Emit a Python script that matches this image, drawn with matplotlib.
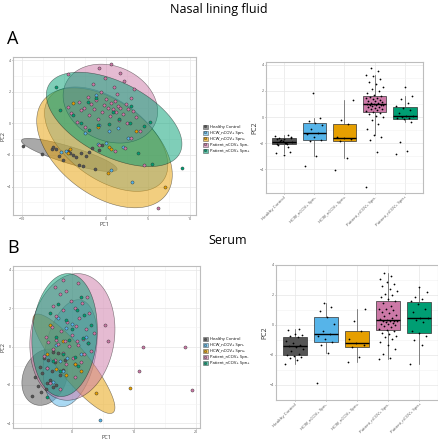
import numpy as np
import matplotlib
matplotlib.use("Agg")
import matplotlib.pyplot as plt
from matplotlib.patches import Patch
from matplotlib.lines import Line2D

plt.rcParams['font.family'] = ['Open Sans', 'DejaVu Sans']

groups = ["Healthy Control", "HCW_nCOV+ Spn-", "HCW_nCOV+ Spn+",
          "Patient_nCOV+ Spn-", "Patient_nCOV+ Spn+"]
colors = ["#555555", "#56B4E9", "#E69F00", "#CC79A7", "#009E73"]

# ---- Nasal lining fluid: PC1 / PC2 per group ----
nasal_pc1 = [
    [-9.9, -7.7, -6.5, -6.3, -6.0, -5.6, -5.2, -4.6, -4.3, -4.0, -3.6, -3.2, -3.0, -2.8, -2.4, -2.0, -1.7, -1.3, -0.9, -0.5],
    [3.1, 0.6, -5.4, -4.8, 2.0, -1.0, 0.0, 2.6, -2.5, 0.3, 1.4, -0.8, -1.2],
    [7.0, 0.2, -4.5, 0.6, -4.3, 0.3, 3.5, -1.0, -4.0],
    [6.2, 4.5, 1.0, 2.2, -0.8, 3.0, 4.0, -2.5, 2.5, -3.5, 1.5, -1.0, 3.5, 0.5, -2.0, 2.0, -4.2, 1.2, -0.5, 3.2,
     -3.0, 0.8, 2.6, -1.5, 1.7, -2.6, 0.2, -4.5, 1.4, -0.3, 2.4, -1.8, 0.6, -3.2, 1.0, -1.2, 0.0, 2.9, -2.2, 1.3,
     -0.6, 3.3, 0.9, -1.6, 2.1, -0.2, -4.5, 1.6, -0.9, 0.6],
    [9.0, 5.5, 3.8, -2.0, 4.5, -1.0, 0.3, 2.8, -3.0, 5.2, 1.5, -4.0, 0.8, -5.5, 3.0, -2.2, -1.2, -6.0],
]
nasal_pc2 = [
    [-1.42, -1.95, -1.6, -1.5, -1.65, -2.05, -2.3, -1.75, -1.9, -2.0, -2.15, -2.64, -1.86, -2.71, -2.05, -1.82, -1.58, -2.89, -1.7, -1.35],
    [-3.73, -2.97, -1.8, -1.75, -1.5, -1.3, -1.24, -0.9, -0.6, -0.48, -0.3, -0.1, 1.8],
    [-4.05, -3.15, -1.85, -1.65, -1.6, -1.5, -0.5, -0.25, 1.3],
    [-5.35, -2.65, -1.75, -1.55, -1.37, -0.9, -0.5, -0.2, 0.0, 0.1, 0.2, 0.3, 0.38, 0.45, 0.5, 0.6, 0.65, 0.7, 0.75, 0.8,
     0.85, 0.88, 0.9, 0.93, 0.95, 0.97, 1.0, 1.05, 1.1, 1.15, 1.2, 1.25, 1.3, 1.38, 1.42, 1.48, 1.52, 1.6, 1.7, 1.85,
     2.0, 2.15, 2.3, 2.5, 2.7, 2.9, 3.1, 3.2, 3.5, 3.75],
    [-2.85, -2.6, -1.9, -0.4, -0.18, -0.1, -0.05, 0.0, 0.05, 0.1, 0.3, 0.55, 0.72, 0.82, 1.1, 1.35, 1.62, 2.3],
]
# 95% ellipse summaries: centre x, centre y, sd x, sd y, correlation
nasal_cx = [-4.4, 0.0, -0.2, 0.5, 0.95]
nasal_cy = [-2.0, -1.0, -1.55, 1.25, 0.25]
nasal_sx = [2.33, 3.0, 3.3, 2.3, 3.3]
nasal_sy = [0.43, 1.35, 1.55, 1.02, 1.22]
nasal_r = [-0.85, -0.5, -0.45, -0.2, -0.52]

# ---- Serum ----
serum_pc1 = [
    [-6.5, -5.0, -4.2, -3.0, -5.5, -2.5, -4.0, -3.5, -6.0, -2.0, -4.8, -3.2, -1.5, -5.2, -2.8, -3.8, -1.2, -4.5, -2.2, -3.0],
    [4.5, -3.0, -1.5, -4.0, 0.5, -2.0, -0.8, 1.5, -2.5, 2.2, -1.0, 0.0, -2.2],
    [3.9, 9.4, -1.0, 1.5, -2.5, 0.5, -4.0, -1.5, -3.5],
    [19.3, -2.0, -3.5, 0.5, 10.8, -4.0, -1.0, 1.5, -2.8, 0.2, -4.5, 2.0, -1.5, 3.0, -3.0, 18.2, 11.5, -0.5, 1.0, -2.2,
     2.5, -3.8, 0.8, -1.2, 5.8, -2.5, 1.8, -4.2, 0.0, 3.5, -1.8, 2.2, -3.2, 0.6, 5.3, -0.8, 1.2, -2.6, 2.8, -1.5,
     0.4, -3.0, 1.6, -0.2, 2.4, -2.0, -1.0, -2.8, 0.9, -1.4],
    [-4.0, -2.0, 1.0, -3.0, 0.5, -1.5, 2.5, -0.5, 1.8, -2.5, 0.0, 3.0, -1.0, 2.0, -3.5, 0.8, -2.2, 1.5],
]
serum_pc2 = [
    [-2.6, -2.35, -2.2, -2.1, -2.05, -2.0, -1.9, -1.75, -1.6, -1.48, -1.38, -1.3, -1.2, -1.05, -0.8, -0.72, -0.68, -0.6, -0.35, -0.27],
    [-3.84, -1.86, -1.3, -1.12, -0.9, -0.75, -0.62, -0.4, 0.1, 0.52, 0.95, 1.2, 1.47],
    [-2.44, -2.15, -1.47, -1.3, -1.18, -0.9, -0.41, 0.3, 1.1],
    [-2.28, -2.2, -1.9, -1.6, -1.3, -1.1, -0.9, -0.8, -0.7, -0.6, -0.5, -0.4, -0.33, -0.25, -0.15, -0.05, 0.0, 0.05, 0.1, 0.15,
     0.2, 0.25, 0.28, 0.3, 0.3, 0.32, 0.4, 0.5, 0.6, 0.7, 0.8, 0.9, 1.0, 1.05, 1.1, 1.3, 1.5, 1.6, 1.75, 1.9,
     2.0, 2.1, 2.25, 2.4, 2.6, 2.75, 2.9, 3.1, 3.3, 3.47],
    [-2.63, -1.3, -1.0, -0.75, -0.55, -0.4, 0.2, 0.35, 0.45, 0.5, 0.9, 1.1, 1.4, 1.62, 1.75, 1.9, 2.2, 2.56],
]
serum_cx = [-4.4, -0.3, 0.3, 0.06, -1.2]
serum_cy = [-1.6, -0.35, -0.9, 0.5, 0.6]
serum_sx = [1.5, 1.78, 2.7, 2.8, 2.15]
serum_sy = [0.6, 1.14, 1.06, 1.35, 1.31]
serum_r = [0.2, 0.3, -0.88, 0.12, 0.1]

W, H = 439, 440
fig = plt.figure(figsize=(W / 100, H / 100), dpi=100)


def box(l, t, r, b):
    return [l / W, 1 - b / H, (r - l) / W, (b - t) / H]


def style(ax):
    ax.set_facecolor("white")
    for s in ax.spines.values():
        s.set_color("#bdbdbd")
        s.set_linewidth(0.8)
    ax.grid(True, which="major", color="#e6e6e6", linewidth=0.5)
    ax.grid(True, which="minor", color="#f2f2f2", linewidth=0.4)
    ax.set_axisbelow(True)
    ax.tick_params(labelsize=2.6, length=1, width=0.4, colors="#555555", pad=0.6)


def pca(ax, pc1, pc2, cx, cy, sx, sy, rr, xticks, xlim, ylim):
    style(ax)
    t = np.linspace(0, 2 * np.pi, 200)
    k = np.sqrt(5.991)
    for i in range(5):
        cov = np.array([[sx[i] ** 2, rr[i] * sx[i] * sy[i]], [rr[i] * sx[i] * sy[i], sy[i] ** 2]])
        L = np.linalg.cholesky(cov)
        e = L @ np.vstack([np.cos(t), np.sin(t)]) * k
        ax.fill(cx[i] + e[0], cy[i] + e[1], facecolor=colors[i], alpha=0.5,
                edgecolor="black", linewidth=0.4, zorder=2)
    for i in range(5):
        ax.scatter(pc1[i], pc2[i], s=5, c=colors[i], edgecolors="#333333",
                   linewidths=0.3, zorder=3)
    step = xticks[1] - xticks[0]
    ax.set_xticks(xticks)
    ax.set_yticks([-4, -2, 0, 2, 4])
    ax.set_xticks(np.arange(xticks[0] - step / 2, xlim[1], step / 2), minor=True)
    ax.set_yticks([-5, -3, -1, 1, 3], minor=True)
    ax.tick_params(which="minor", length=0)
    ax.set_xlim(xlim)
    ax.set_ylim(ylim)
    ax.set_xlabel("PC1", fontsize=4, labelpad=0.5, color="#333333")
    ax.set_ylabel("PC2", fontsize=4, labelpad=0.5, color="#333333")


def boxes(ax, vals, ylim):
    style(ax)
    for i in range(5):
        bp = ax.boxplot([vals[i]], positions=[i + 1], widths=0.78, patch_artist=True,
                        showfliers=False,
                        medianprops=dict(color="black", linewidth=1.0),
                        boxprops=dict(edgecolor="#333333", linewidth=0.5),
                        whiskerprops=dict(color="#555555", linewidth=0.5),
                        capprops=dict(linewidth=0))
        bp["boxes"][0].set_facecolor(colors[i])
        n = len(vals[i])
        jit = ((np.arange(n) * 0.618) % 1 - 0.5) * 0.6
        ax.scatter(i + 1 + jit, vals[i], s=1.6, c="black", zorder=4, linewidths=0)
    ax.set_xlim(0.4, 5.6)
    ax.set_ylim(ylim)
    ax.set_yticks([-4, -2, 0, 2, 4])
    ax.set_yticks([-5, -3, -1, 1, 3], minor=True)
    ax.tick_params(which="minor", length=0)
    ax.set_xticks(range(1, 6))
    ax.set_xticklabels(groups, rotation=45, ha="right", rotation_mode="anchor", fontsize=3.2)
    ax.set_ylabel("PC2", fontsize=5, labelpad=1, color="#333333")


handles = [(Patch(facecolor=c, edgecolor="#333333", linewidth=0.5, alpha=0.6),
            Line2D([], [], marker="o", linestyle="", markersize=1.8, markerfacecolor=c,
                   markeredgecolor="#333333", markeredgewidth=0.3)) for c in colors]

ax1 = fig.add_axes(box(13, 57, 196, 215))
pca(ax1, nasal_pc1, nasal_pc2, nasal_cx, nasal_cy, nasal_sx, nasal_sy, nasal_r,
    [-10, -5, 0, 5, 10], (-11.1, 10.7), (-5.8, 4.2))
ax2 = fig.add_axes(box(266, 62, 423, 193))
boxes(ax2, nasal_pc2, (-5.8, 4.2))

ax3 = fig.add_axes(box(13, 266, 200, 428))
pca(ax3, serum_pc1, serum_pc2, serum_cx, serum_cy, serum_sx, serum_sy, serum_r,
    [0, 10, 20], (-9.5, 20.6), (-4.25, 4.2))
ax4 = fig.add_axes(box(276, 265, 438, 400))
boxes(ax4, serum_pc2, (-4.2, 3.66))

for yc in (139, 351):
    fig.legend(handles, groups, loc="center left", bbox_to_anchor=(201 / W, 1 - yc / H),
               fontsize=3, frameon=False, handlelength=1.2, handleheight=1.2,
               labelspacing=0.35, handletextpad=0.5, borderaxespad=0)

fig.text(219 / W, 1 - 10 / H, "Nasal lining fluid", ha="center", va="center", fontsize=9)
fig.text(228 / W, 1 - 240 / H, "Serum", ha="center", va="center", fontsize=9)
fig.text(7 / W, 1 - 39 / H, "A", ha="left", va="center", fontsize=13)
fig.text(7 / W, 1 - 248 / H, "B", ha="left", va="center", fontsize=13)

fig.savefig("out.png", dpi=100)
